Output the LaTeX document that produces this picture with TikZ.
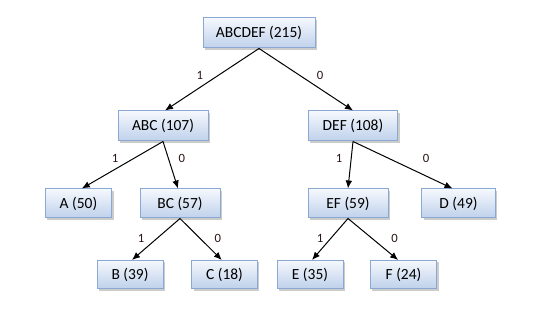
\documentclass[tikz,border=0pt]{standalone}
\usepackage{fontspec}
\setmainfont{Carlito}
\usetikzlibrary{arrows.meta,shadows}
\definecolor{boxborder}{HTML}{8AA8D2}
\definecolor{boxtop}{HTML}{F5F8FD}
\definecolor{boxbot}{HTML}{BFD1EB}
\definecolor{lbl}{HTML}{2A1515}
\tikzset{
  hbox/.style={draw=boxborder, line width=0.75pt, top color=boxtop, bottom color=boxbot,
    minimum height=22.5pt, inner sep=0pt, font=\fontsize{11.6}{13}\selectfont,
    drop shadow={shadow xshift=1.5pt, shadow yshift=-1.5pt, fill=black!40, opacity=0.5}},
  conn/.style={line width=0.75pt, -{Latex[length=6pt,width=5pt]}},
  bit/.style={font=\fontsize{9.5}{10}\selectfont, text=lbl, inner sep=0pt}
}
\begin{document}
\begin{tikzpicture}[x=0.75pt,y=-0.75pt]
\useasboundingbox (0,0) rectangle (541,323);
\node[hbox, minimum width=84pt] (r) at (259,33) {ABCDEF (215)};
\node[hbox, minimum width=67.5pt] (abc) at (163,126) {ABC (107)};
\node[hbox, minimum width=67pt] (def) at (353,126) {DEF (108)};
\node[hbox, minimum width=50pt, minimum height=21.75pt] (a) at (78.5,203.5) {A (50)};
\node[hbox, minimum width=60pt, minimum height=21.75pt] (bc) at (180,203.5) {BC (57)};
\node[hbox, minimum width=60pt, minimum height=21.75pt] (ef) at (348,203.5) {EF (59)};
\node[hbox, minimum width=55pt, minimum height=21.75pt] (d) at (458.5,203.5) {D (49)};
\node[hbox, minimum width=49.5pt, minimum height=21pt] (b) at (130,274.5) {B (39)};
\node[hbox, minimum width=49pt, minimum height=21pt] (c) at (224.5,274.5) {C (18)};
\node[hbox, minimum width=49.5pt, minimum height=21pt] (e) at (310,274.5) {E (35)};
\node[hbox, minimum width=50pt, minimum height=21pt] (f) at (403.5,274.5) {F (24)};
\draw[conn] (r.south) -- node[bit, pos=0.43, xshift=-14pt] {1} ([xshift=1.5pt]abc.north);
\draw[conn] (r.south) -- node[bit, pos=0.43, xshift=15.5pt] {0} (def.north);
\draw[conn] (abc.south) -- node[bit, pos=0.36, xshift=-14pt] {1} ([xshift=2.5pt]a.north);
\draw[conn] (abc.south) -- node[bit, pos=0.36, xshift=10pt] {0} ([xshift=-1.5pt]bc.north);
\draw[conn] (def.south) -- node[bit, pos=0.36, xshift=-9pt] {1} (ef.north);
\draw[conn] (def.south) -- node[bit, pos=0.36, xshift=28pt] {0} ([xshift=-4.5pt]d.north);
\draw[conn] (bc.south) -- node[bit, pos=0.476, xshift=-12pt] {1} ([xshift=1.5pt]b.north);
\draw[conn] (bc.south) -- node[bit, pos=0.476, xshift=13.5pt] {0} ([xshift=-2pt]c.north);
\draw[conn] (ef.south) -- node[bit, pos=0.476, xshift=-8pt] {1} ([xshift=1.5pt]e.north);
\draw[conn] (ef.south) -- node[bit, pos=0.476, xshift=17pt] {0} ([xshift=-4pt]f.north);
\end{tikzpicture}
\end{document}
